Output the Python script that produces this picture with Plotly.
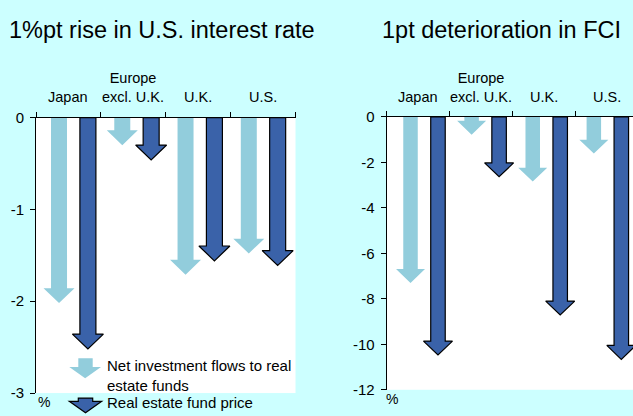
import plotly.graph_objects as go

# ---------------- data ----------------
categories = ["Japan", "Europe<br>excl. U.K.", "U.K.", "U.S."]
titles = ["1%pt rise in U.S. interest rate", "1pt deterioration in FCI"]
series_names = ["Net investment flows to real<br>estate funds", "Real estate fund price"]

rate_flows = [-2.02, -0.30, -1.71, -1.48]
rate_price = [-2.52, -0.46, -1.56, -1.61]
fci_flows = [-7.30, -0.78, -2.84, -1.61]
fci_price = [-10.47, -2.63, -8.71, -10.66]

rate_ticks = [0, -1, -2, -3]
rate_ticktext = ["0", "-1", "-2", "-3"]
fci_ticks = [0, -2, -4, -6, -8, -10, -12]
fci_ticktext = ["0", "-2", "-4", "-6", "-8", "-10", "-12"]

# ---------------- style ----------------
W, H = 633, 416
BG = "#CCFFFF"
LIGHT = "#92CDDC"
DARK = "#3A62A9"
FONT = "Liberation Sans, Arial, sans-serif"

# pixel geometry of the two panels
L = dict(x0=36, x1=295.5, ytop=113.3, ybot=400.4, ymin=-3, ncat=4.0)
R = dict(x0=386.7, x1=633, ytop=112.6, ybot=397, ymin=-12, ncat=(633 - 386.7) / 63.0)


def dom_x(p):
    return [p["x0"] / W, p["x1"] / W]


def dom_y(p):
    return [1 - p["ybot"] / H, 1 - p["ytop"] / H]


fig = go.Figure()


def add_arrows(values, p, xa, ya, off, spacing, shaft, head, headlen, fill, outline):
    pxx = (p["x1"] - p["x0"]) / p["ncat"]
    pxy = (p["ybot"] - p["ytop"]) / (-p["ymin"])
    ds = shaft / 2 / pxx
    dh = head / 2 / pxx
    dy = headlen / pxy
    for i, v in enumerate(values):
        xc = off + i * spacing
        yh = v + dy
        xs = [xc - ds, xc + ds, xc + ds, xc + dh, xc, xc - dh, xc - ds, xc - ds]
        ys = [0, 0, yh, yh, v, yh, yh, 0]
        fig.add_trace(go.Scatter(
            x=xs, y=ys, xaxis=xa, yaxis=ya, mode="lines", fill="toself",
            fillcolor=fill,
            line=dict(color=outline if outline else fill, width=1.2 if outline else 0),
            showlegend=False, hoverinfo="skip"))


# left panel
add_arrows(rate_flows, L, "x", "y", 0.355, 0.975, 16, 31, 15.5, LIGHT, None)
add_arrows(rate_price, L, "x", "y", 0.80, 0.975, 16, 31, 15.5, DARK, "black")
# right panel
add_arrows(fci_flows, R, "x2", "y2", 0.378, 0.97, 14.5, 29, 14.5, LIGHT, None)
add_arrows(fci_price, R, "x2", "y2", 0.814, 0.97, 14.5, 29, 14.5, DARK, "black")

axis_common = dict(showgrid=False, zeroline=False, showline=True, linecolor="black",
                   linewidth=1, ticks="outside", ticklen=5, tickcolor="black",
                   tickfont=dict(family=FONT, size=15, color="black"))

fig.update_layout(
    width=W, height=H, margin=dict(l=0, r=0, t=0, b=0),
    paper_bgcolor=BG, plot_bgcolor="white", showlegend=False,
    xaxis=dict(domain=dom_x(L), range=[0, L["ncat"]], anchor="y", side="top",
               tickvals=[0, 1, 2, 3, 4], showticklabels=False, **axis_common),
    yaxis=dict(domain=dom_y(L), range=[L["ymin"], 0], anchor="x",
               tickvals=rate_ticks, ticktext=rate_ticktext, ticklabelstandoff=3,
               **axis_common),
    xaxis2=dict(domain=dom_x(R), range=[0, R["ncat"]], anchor="y2", side="top",
                tickvals=[0, 1, 2, 3, 4], showticklabels=False, **axis_common),
    yaxis2=dict(domain=dom_y(R), range=[R["ymin"], 0], anchor="x2",
                tickvals=fci_ticks, ticktext=fci_ticktext, ticklabelstandoff=3,
                **axis_common),
)

ann = []
# titles
for t, cx in zip(titles, [162, 501]):
    ann.append(dict(text=t, x=cx / W, y=1 - 22 / H, xref="paper", yref="paper",
                    xanchor="center", yanchor="middle", showarrow=False,
                    font=dict(family=FONT, size=23.5, color="black")))
# category labels
for xa in ["x", "x2"]:
    for i, c in enumerate(categories):
        ann.append(dict(text=c, x=i + 0.5, xref=xa, y=1 - 102 / H, yref="paper",
                        xanchor="center", yanchor="bottom", showarrow=False,
                        font=dict(family=FONT, size=14.5, color="black")))
# % labels
for cx, cy in [(43.5, 410), (391.5, 407)]:
    ann.append(dict(text="%", x=cx / W, y=1 - cy / H, xref="paper", yref="paper",
                    xanchor="center", yanchor="middle", showarrow=False,
                    font=dict(family=FONT, size=14, color="black")))
# legend texts
ann.append(dict(text=series_names[0], x=105 / W, y=1 - 361 / H, xref="paper", yref="paper",
                xanchor="left", yanchor="top", align="left", showarrow=False,
                font=dict(family=FONT, size=15, color="black")))
ann.append(dict(text=series_names[1], x=105 / W, y=1 - 410 / H, xref="paper", yref="paper",
                xanchor="left", yanchor="middle", align="left", showarrow=False,
                font=dict(family=FONT, size=15, color="black")))
fig.update_layout(annotations=ann)


# legend icons
def icon_path(x_s0, x_s1, x_h0, x_h1, ytop, yhead, ytip):
    xc = (x_h0 + x_h1) / 2
    pts = [(x_s0, ytop), (x_s1, ytop), (x_s1, yhead), (x_h1, yhead), (xc, ytip),
           (x_h0, yhead), (x_s0, yhead)]
    return "M " + " L ".join(f"{x / W:.5f},{1 - y / H:.5f}" for x, y in pts) + " Z"


fig.add_shape(type="path", xref="paper", yref="paper", layer="above",
              path=icon_path(78.3, 92.7, 69.3, 101, 364, 373.3, 385),
              fillcolor=LIGHT, line=dict(width=0))
fig.add_shape(type="path", xref="paper", yref="paper", layer="above",
              path=icon_path(78.3, 92.7, 69.3, 101.7, 405.7, 409, 421),
              fillcolor=DARK, line=dict(color="black", width=1.2))

post = ("document.documentElement.style.margin='0';"
        "document.body.style.margin='0';document.body.style.overflow='hidden';"
        "var d=document.getElementById('{plot_id}');"
        "d.style.position='fixed';d.style.left='0px';d.style.top='0px';")

fig.write_html("out.html", config={"displayModeBar": False}, post_script=post)
